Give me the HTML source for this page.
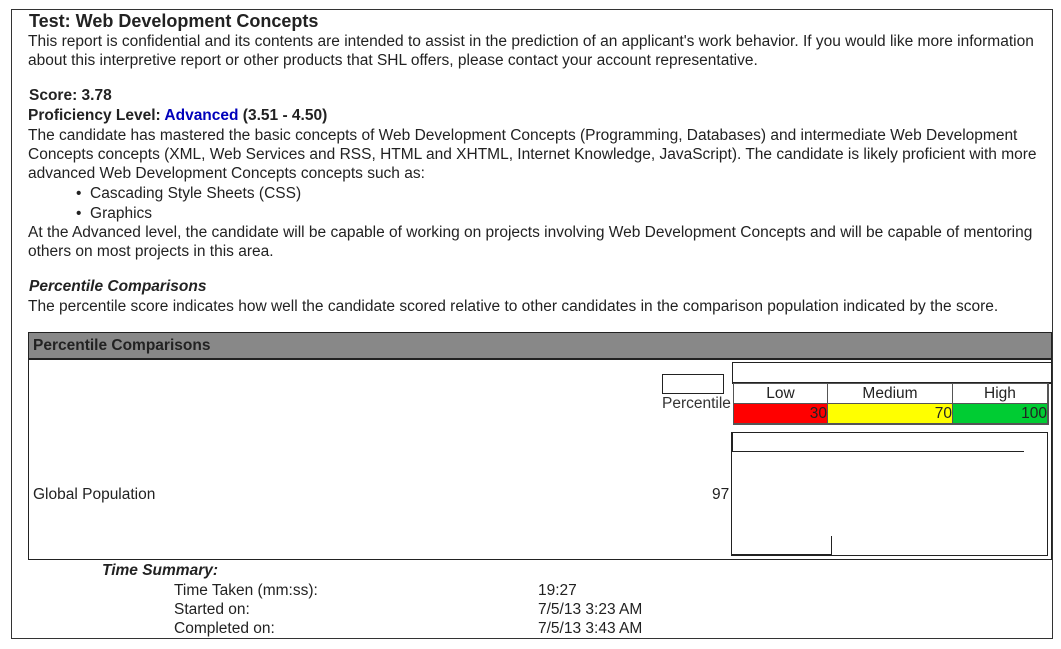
<!DOCTYPE html>
<html><head><meta charset="utf-8"><style>
body{margin:0;width:1061px;height:649px;background:#fff;font-family:"Liberation Sans",Arial,sans-serif;color:#222;position:relative;overflow:hidden}
.a{position:absolute;white-space:nowrap;font-size:15.5px;line-height:19px}
.b{font-weight:bold}
</style></head><body>
<div style="position:absolute;left:11px;top:9px;width:1040px;height:628px;border:1px solid #333"></div>
<div class="a b" style="left:29px;top:11px;font-size:18px;line-height:20px">Test: Web Development Concepts</div>
<div class="a" style="left:28px;top:32px">This report is confidential and its contents are intended to assist in the prediction of an applicant's work behavior. If you would like more information</div>
<div class="a" style="left:28px;top:51px">about this interpretive report or other products that SHL offers, please contact your account representative.</div>
<div class="a b" style="left:29px;top:86px">Score: 3.78</div>
<div class="a b" style="left:28px;top:106px">Proficiency Level: <span style="color:#0000bb">Advanced</span> (3.51 - 4.50)</div>
<div class="a" style="left:28px;top:126px">The candidate has mastered the basic concepts of Web Development Concepts (Programming, Databases) and intermediate Web Development</div>
<div class="a" style="left:28px;top:145px">Concepts concepts (XML, Web Services and RSS, HTML and XHTML, Internet Knowledge, JavaScript). The candidate is likely proficient with more</div>
<div class="a" style="left:28px;top:164px">advanced Web Development Concepts concepts such as:</div>
<div class="a" style="left:76px;top:184px">•&nbsp;&nbsp;Cascading Style Sheets (CSS)</div>
<div class="a" style="left:76px;top:204px">•&nbsp;&nbsp;Graphics</div>
<div class="a" style="left:28px;top:223px">At the Advanced level, the candidate will be capable of working on projects involving Web Development Concepts and will be capable of mentoring</div>
<div class="a" style="left:28px;top:242px">others on most projects in this area.</div>
<div class="a b" style="left:29px;top:277px;font-style:italic">Percentile Comparisons</div>
<div class="a" style="left:28px;top:297px">The percentile score indicates how well the candidate scored relative to other candidates in the comparison population indicated by the score.</div>
<div style="position:absolute;left:28px;top:332px;width:1022px;height:226px;border:1px solid #222"></div>
<div style="position:absolute;left:29px;top:333px;width:1022px;height:25px;background:#888;border-bottom:2px solid #222"></div>
<div class="a b" style="left:33px;top:336px">Percentile Comparisons</div>
<div style="position:absolute;left:662px;top:374px;width:60px;height:18px;border:1px solid #222"></div>
<div class="a" style="left:662px;top:394px;color:#333">Percentile</div>
<div style="position:absolute;left:732px;top:362px;width:318px;height:19px;border:1px solid #222;border-right:none;border-bottom:2px solid #222"></div>
<div style="position:absolute;left:733px;top:383px;width:314px;height:40px;border:1px solid #555;background:#555;display:grid;grid-template-columns:93px 124px 94px;grid-template-rows:19px 19px;gap:1px">
<div style="background:#fff;text-align:center;font-size:15.5px;line-height:19px">Low</div>
<div style="background:#fff;text-align:center;font-size:15.5px;line-height:19px">Medium</div>
<div style="background:#fff;text-align:center;font-size:15.5px;line-height:19px">High</div>
<div style="background:#f00;text-align:right;font-size:15.5px;line-height:19px">30</div>
<div style="background:#ff0;text-align:right;font-size:15.5px;line-height:19px">70</div>
<div style="background:#0c3;text-align:right;font-size:15.5px;line-height:19px">100</div>
</div>
<div class="a" style="left:33px;top:485px">Global Population</div>
<div class="a" style="left:712px;top:485px">97</div>
<div style="position:absolute;left:731px;top:432px;width:315px;height:122px;border:1px solid #222"></div>
<div style="position:absolute;left:732px;top:433px;width:1px;height:19px;background:#222"></div>
<div style="position:absolute;left:732px;top:451px;width:292px;height:1px;background:#222"></div>
<div style="position:absolute;left:732px;top:554px;width:100px;height:2px;background:#222"></div>
<div style="position:absolute;left:831px;top:536px;width:1px;height:19px;background:#222"></div>
<div class="a b" style="left:102px;top:561px;font-style:italic">Time Summary:</div>
<div class="a" style="left:174px;top:581px">Time Taken (mm:ss):</div>
<div class="a" style="left:538px;top:581px">19:27</div>
<div class="a" style="left:174px;top:600px">Started on:</div>
<div class="a" style="left:538px;top:600px">7/5/13 3:23 AM</div>
<div class="a" style="left:174px;top:619px">Completed on:</div>
<div class="a" style="left:538px;top:619px">7/5/13 3:43 AM</div>
</body></html>
